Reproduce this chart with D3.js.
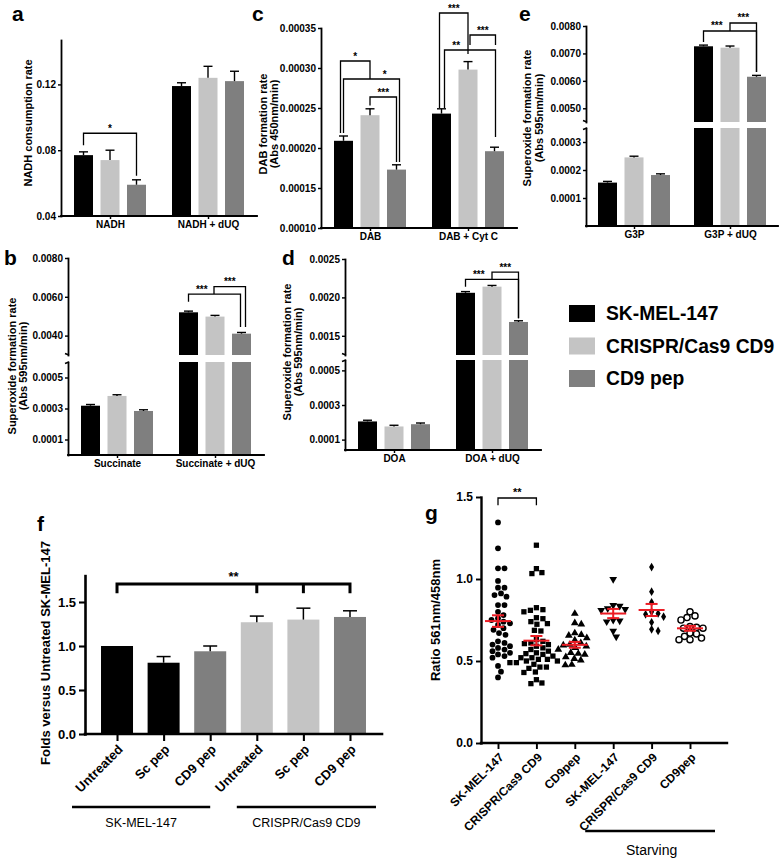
<!DOCTYPE html>
<html><head><meta charset="utf-8">
<script src="https://cdn.jsdelivr.net/npm/d3@7"></script>
<style>
body{margin:0;background:#fff;}
svg{display:block;}
</style></head><body>
<svg id="chart" width="780" height="860"></svg>
<script>
const FONT = "'Liberation Sans', Arial, sans-serif";
const seriesNames = ["SK-MEL-147", "CRISPR/Cas9 CD9", "CD9 pep"];
const seriesColors = ["#000000", "#c4c4c4", "#7f7f7f"];

// ---- panel a
const aGroups = ["NADH", "NADH + dUQ"];
const aValues = [[0.077, 0.074, 0.059], [0.119, 0.124, 0.122]];
const aErrors = [[0.002, 0.006, 0.003], [0.002, 0.007, 0.006]];
const aTicks = [0.04, 0.08, 0.12];
const aBrackets = [{gL:0, sL:0, gR:0, sR:2, v:0.0903, vL:0.083, vR:0.0645, label:"*"}];

// ---- panel b
const bGroups = ["Succinate", "Succinate + dUQ"];
const bValues = [[0.000318, 0.000381, 0.000284], [0.00520, 0.00498, 0.00410]];
const bErrors = [[0.000003, 0.000004, 0.000004], [0.00003, 0.00003, 0.00003]];
const bTicksLow = [0.0001, 0.0003, 0.0005];
const bTicksHigh = [0.004, 0.006, 0.008];
const bBrackets = [
  {gL:1, sL:0, gR:1, sR:2, v:0.00614, vL:0.00575, vR:0.00444, label:"***", split:1, side:"left"},
  {gL:1, sL:1, gR:1, sR:2, v:0.00652, vL:0.00614, vR:0.00444, label:"***"}
];

// ---- panel c
const cGroups = ["DAB", "DAB + Cyt C"];
const cValues = [[0.000209, 0.000241, 0.000173], [0.000243, 0.000298, 0.000196]];
const cErrors = [[0.000006, 0.000008, 0.000006], [0.000006, 0.00001, 0.000005]];
const cTicks = [0.0001, 0.00015, 0.0002, 0.00025, 0.0003, 0.00035];
const cBrackets = [
  {gL:0, sL:0, gR:0, sR:1, v:0.00030875, vL:0.00021875, vR:0.00028625, label:"*"},
  {gL:0, sL:0, gR:0, sR:2, v:0.00028625, vL:0.00021875, vR:0.0001825, label:"*", split:1, side:"right"},
  {gL:0, sL:1, gR:0, sR:2, v:0.00026375, vL:0.000253, vR:0.0001825, label:"***"},
  {gL:1, sL:0, gR:1, sR:1, v:0.00036875, vL:0.00025, vR:0.0003175, label:"***"},
  {gL:1, sL:1, gR:1, sR:2, v:0.00034125, vL:0.00032875, vR:0.00032875, label:"***"},
  {gL:1, sL:0, gR:1, sR:2, v:0.0003225, vL:0.00025, vR:0.00021375, label:"**", split:1, side:"left"}
];

// ---- panel d
const dGroups = ["DOA", "DOA + dUQ"];
const dValues = [[0.000205, 0.000176, 0.000189], [0.00206, 0.00214, 0.00168]];
const dErrors = [[0.000003, 0.000004, 0.000004], [0.000005, 0.000008, 0.000005]];
const dTicksLow = [0.0001, 0.0003, 0.0005];
const dTicksHigh = [0.0015, 0.0020, 0.0025];
const dBrackets = [
  {gL:1, sL:0, gR:1, sR:2, v:0.002236, vL:0.00214, vR:0.00173, label:"***", split:1, side:"left"},
  {gL:1, sL:1, gR:1, sR:2, v:0.00233, vL:0.002236, vR:0.00173, label:"***"}
];

// ---- panel e
const eGroups = ["G3P", "G3P + dUQ"];
const eValues = [[0.000155, 0.000245, 0.000182], [0.00726, 0.00721, 0.00615]];
const eErrors = [[0.000002, 0.000004, 0.000004], [0.00004, 0.00006, 0.00005]];
const eTicksLow = [0.0001, 0.0002, 0.0003];
const eTicksHigh = [0.005, 0.006, 0.007, 0.008];
const eBrackets = [
  {gL:1, sL:0, gR:1, sR:2, v:0.007818, vL:0.007417, vR:0.006323, label:"***", split:1, side:"left"},
  {gL:1, sL:1, gR:1, sR:2, v:0.00811, vL:0.007818, vR:0.006323, label:"***"}
];

// ---- panel f
const fLabels = ["Untreated", "Sc pep", "CD9 pep", "Untreated", "Sc pep", "CD9 pep"];
const fValues = [1.00, 0.81, 0.94, 1.27, 1.30, 1.33];
const fErrors = [0, 0.07, 0.06, 0.07, 0.13, 0.07];
const fColorIdx = [0, 0, 2, 1, 1, 2];
const fGroupLabels = ["SK-MEL-147", "CRISPR/Cas9 CD9"];
const fTicks = [0, 0.5, 1.0, 1.5];
const fSig = {from:0, to:[3, 4, 5], v:1.705, vLeg:1.60, label:"**"};

// ---- panel g
const gCats = ["SK-MEL-147", "CRISPR/Cas9 CD9", "CD9pep", "SK-MEL-147", "CRISPR/Cas9 CD9", "CD9pep"];
const gSk = [1.345,1.187,1.065,1.065,0.988,0.947,0.947,0.912,0.902,0.892,0.841,0.841,0.80,0.78,0.76,0.75,0.74,0.73,0.72,0.70,0.69,0.67,0.66,0.62,0.61,0.60,0.59,0.58,0.57,0.56,0.55,0.54,0.53,0.52,0.47,0.435,0.40];
const gCr = [1.206,1.063,1.039,1.033,0.825,0.813,0.809,0.80,0.764,0.758,0.74,0.728,0.724,0.52,0.687,0.683,0.51,0.50,0.49,0.48,0.63,0.62,0.61,0.606,0.60,0.59,0.58,0.57,0.56,0.55,0.545,0.54,0.53,0.52,0.51,0.50,0.49,0.463,0.463,0.455,0.433,0.43,0.386,0.366,0.362];
const gPep = [0.789,0.732,0.724,0.67,0.66,0.655,0.64,0.626,0.61,0.60,0.596,0.59,0.58,0.57,0.55,0.545,0.54,0.525,0.514,0.505,0.478,0.475];
const gSkS = [0.998,0.84,0.835,0.82,0.815,0.81,0.75,0.745,0.74,0.683,0.648];
const gCrS = [1.073,0.923,0.858,0.80,0.79,0.785,0.77,0.736,0.693,0.683];
const gPepS = [0.80,0.775,0.765,0.75,0.71,0.705,0.70,0.70,0.67,0.665,0.65,0.64,0.63,0.63];
const gSeries = [gSk, gCr, gPep, gSkS, gCrS, gPepS];
const gTicks = [0, 0.5, 1.0, 1.5];
const gSig = {from:0, to:1, v:1.494, vLeg:1.45, label:"**"};

const svg = d3.select("#chart");

function styleAxis(sel, size, sw, weight) {
  sel.attr("font-family", FONT).attr("font-size", size).attr("font-weight", weight || "bold");
  sel.selectAll("path.domain").attr("stroke", "#000").attr("stroke-width", sw).attr("stroke-linecap", "square");
  sel.selectAll(".tick line").attr("stroke", "#000").attr("stroke-width", sw * 0.8);
  sel.selectAll(".tick text").attr("fill", "#000");
}

function rotLabel(cx, cy, text, size) {
  svg.append("text").attr("transform", `translate(${cx},${cy}) rotate(-90)`)
    .attr("text-anchor", "middle").attr("dominant-baseline", "central")
    .attr("font-family", FONT).attr("font-weight", "bold").attr("font-size", size).text(text);
}
function letter(x, y, t) {
  svg.append("text").attr("x", x).attr("y", y).attr("font-family", FONT)
    .attr("font-weight", "bold").attr("font-size", 21).text(t);
}

function barPanel(cfg) {
  const g = svg.append("g");
  const x = d3.scalePoint().domain(d3.range(cfg.groups.length)).range([cfg.left, cfg.left + cfg.len]).padding(0.5);
  const xs = d3.scaleBand().domain(d3.range(3)).range([-36, 36]).paddingInner(0.283);
  const segs = cfg.segs.map(s => Object.assign({}, s, {y: d3.scaleLinear().domain(s.domain).range(s.range)}));
  const yOf = v => (segs.find(s => v <= s.domain[1]) || segs[segs.length - 1]).y(v);
  const bottom = segs[0].range[0];
  const cxOf = (gi, si) => x(gi) + xs(si) + xs.bandwidth() / 2;

  cfg.values.forEach((row, gi) => row.forEach((v, si) => {
    const bx = x(gi) + xs(si);
    segs.forEach(s => {
      if (v <= s.domain[0]) return;
      const top = s.y(Math.min(v, s.domain[1]));
      g.append("rect").attr("x", bx).attr("width", xs.bandwidth())
        .attr("y", top).attr("height", s.range[0] - top).attr("fill", seriesColors[si]);
    });
    const e = cfg.errors[gi][si], cx = cxOf(gi, si);
    const y0 = yOf(v), y1 = Math.min(yOf(v + e), y0 - 1.2);
    g.append("line").attr("x1", cx).attr("x2", cx).attr("y1", y0).attr("y2", y1).attr("stroke", "#000").attr("stroke-width", 1.4);
    g.append("line").attr("x1", cx - 4.5).attr("x2", cx + 4.5).attr("y1", y1).attr("y2", y1).attr("stroke", "#000").attr("stroke-width", 1.4);
  }));

  segs.forEach((s, i) => {
    const ax = g.append("g").attr("transform", `translate(${cfg.left},0)`)
      .call(d3.axisLeft(s.y).tickValues(s.ticks).tickFormat(d3.format(cfg.fmt)).tickSize(3).tickPadding(2).tickSizeOuter(0));
    styleAxis(ax, 10, 1.8);
    if (segs.length > 1) {
      const yb = i === 0 ? s.range[1] : s.range[0];
      g.append("line").attr("x1", cfg.left - 3).attr("x2", cfg.left + 1).attr("y1", yb + (i === 0 ? 1.5 : -1.5)).attr("y2", yb)
        .attr("stroke", "#000").attr("stroke-width", 1.6);
    }
  });

  const xa = g.append("g").attr("transform", `translate(0,${bottom})`)
    .call(d3.axisBottom(x).tickSize(3).tickPadding(2).tickSizeOuter(0).tickFormat(i => cfg.groups[i]));
  styleAxis(xa, 10, 1.8);
  xa.select("path.domain").attr("d", `M${cfg.left},0H${cfg.left + cfg.len}`);

  const nud = cfg.nudges || [];
  cfg.brackets.forEach((b, k) => {
    const n = nud[k] || [0, 0];
    const xL = cxOf(b.gL, b.sL) + n[0], xR = cxOf(b.gR, b.sR) + n[1];
    const yh = yOf(b.v);
    g.append("path").attr("d", `M${xL},${yOf(b.vL)}V${yh}H${xR}V${yOf(b.vR)}`)
      .attr("fill", "none").attr("stroke", "#000").attr("stroke-width", 1.3);
    let lx = (xL + xR) / 2;
    if (b.split !== undefined) {
      const xm = cxOf(b.gL, b.split);
      lx = b.side === "left" ? (xL + xm) / 2 : (xm + xR) / 2;
    }
    g.append("text").attr("x", lx).attr("y", yh - 1.5).attr("text-anchor", "middle")
      .attr("font-family", FONT).attr("font-weight", "bold").attr("font-size", 10).text(b.label);
  });
}

barPanel({left:61, len:196, groups:aGroups, values:aValues, errors:aErrors, fmt:".2f",
  segs:[{domain:[0.04, 0.147], range:[216, 40], ticks:aTicks}], brackets:aBrackets});
barPanel({left:68, len:196, groups:bGroups, values:bValues, errors:bErrors, fmt:".4f",
  segs:[{domain:[0, 0.0006], range:[455, 362], ticks:bTicksLow}, {domain:[0.003, 0.008], range:[355, 258], ticks:bTicksHigh}],
  brackets:bBrackets, nudges:[[0, -1], [-1, 4]]});
barPanel({left:321, len:196, groups:cGroups, values:cValues, errors:cErrors, fmt:".5f",
  segs:[{domain:[0.0001, 0.00035], range:[228, 28], ticks:cTicks}], brackets:cBrackets,
  nudges:[[-3, 0], [0, 3], [0, 0], [-2, 0], [2, 1], [3, 1]]});
barPanel({left:345, len:196, groups:dGroups, values:dValues, errors:dErrors, fmt:".4f",
  segs:[{domain:[0.00004, 0.00056], range:[450, 360], ticks:dTicksLow}, {domain:[0.00125, 0.0025], range:[355, 259], ticks:dTicksHigh}],
  brackets:dBrackets});
barPanel({left:586, len:192, groups:eGroups, values:eValues, errors:eErrors, fmt:".4f",
  segs:[{domain:[0, 0.00035], range:[226, 128], ticks:eTicksLow}, {domain:[0.0045, 0.008], range:[122, 26], ticks:eTicksHigh}],
  brackets:eBrackets});

// y labels + letters, top panels
rotLabel(28, 123, "NADH consumption rate", 11);
rotLabel(12, 366, "Superoxide formation rate", 11); rotLabel(23, 366, "(Abs 595nm/min)", 11);
rotLabel(263, 124, "DAB formation rate", 11); rotLabel(274, 124, "(Abs 450nm/min)", 11);
rotLabel(287, 352, "Superoxide formation rate", 11); rotLabel(298, 352, "(Abs 595nm/min)", 11);
rotLabel(527, 118, "Superoxide formation rate", 11); rotLabel(539, 118, "(Abs 595nm/min)", 11);
letter(12, 21, "a"); letter(4, 265, "b"); letter(252, 21, "c"); letter(282, 265, "d"); letter(519, 21, "e");
letter(37, 531, "f"); letter(425, 520, "g");

// legend
const leg = svg.append("g");
seriesNames.forEach((n, i) => {
  const yy = 305 + i * 32.5;
  leg.append("rect").attr("x", 569).attr("y", yy).attr("width", 26).attr("height", 17).attr("fill", seriesColors[i]);
  leg.append("text").attr("x", 606).attr("y", yy + 8.5).attr("dominant-baseline", "central")
    .attr("font-family", FONT).attr("font-weight", "bold").attr("font-size", 19.3).text(n);
});

// ---- panel f
{
  const g = svg.append("g");
  const x = d3.scalePoint().domain(d3.range(fValues.length)).range([85, 382]).padding(0.687);
  const y = d3.scaleLinear().domain([0, 1.8]).range([734, 575.6]);
  const bw = 32;
  fValues.forEach((v, i) => {
    g.append("rect").attr("x", x(i) - bw / 2).attr("width", bw).attr("y", y(v)).attr("height", y(0) - y(v))
      .attr("fill", seriesColors[fColorIdx[i]]);
    if (fErrors[i] > 0) {
      const y1 = y(v + fErrors[i]);
      g.append("line").attr("x1", x(i)).attr("x2", x(i)).attr("y1", y(v)).attr("y2", y1).attr("stroke", "#000").attr("stroke-width", 1.5);
      g.append("line").attr("x1", x(i) - 7).attr("x2", x(i) + 7).attr("y1", y1).attr("y2", y1).attr("stroke", "#000").attr("stroke-width", 1.5);
    }
  });
  const ay = g.append("g").attr("transform", "translate(85,0)")
    .call(d3.axisLeft(y).tickValues(fTicks).tickFormat(d3.format(".1f")).tickSize(6).tickPadding(3).tickSizeOuter(0));
  styleAxis(ay, 13, 2.6);
  const ax = g.append("g").attr("transform", `translate(0,${y(0)})`)
    .call(d3.axisBottom(x).tickSize(7).tickSizeOuter(0).tickFormat(i => fLabels[i]));
  styleAxis(ax, 13, 2.6);
  ax.select("path.domain").attr("d", "M85,0H382");
  ax.selectAll(".tick text").attr("x", null).attr("y", null).attr("dy", "0.35em")
    .attr("text-anchor", "end").attr("transform", "translate(3,13) rotate(-45)");
  // significance
  const yh = y(fSig.v), yl = y(fSig.vLeg);
  g.append("path").attr("d", `M${x(fSig.from)},${yl}V${yh}H${x(fSig.to[fSig.to.length - 1])}V${yl}`)
    .attr("fill", "none").attr("stroke", "#000").attr("stroke-width", 3);
  fSig.to.slice(0, -1).forEach(i => g.append("line").attr("x1", x(i)).attr("x2", x(i)).attr("y1", yh).attr("y2", yl)
    .attr("stroke", "#000").attr("stroke-width", 3));
  g.append("text").attr("x", (x(fSig.from) + x(fSig.to[fSig.to.length - 1])) / 2).attr("y", yh - 3)
    .attr("text-anchor", "middle").attr("font-family", FONT).attr("font-weight", "bold").attr("font-size", 13).text(fSig.label);
  // group underlines
  const spans = [[x(0) - 45, x(2)], [x(3) - 20, x(5) + 26]];
  spans.forEach((s, i) => {
    g.append("line").attr("x1", s[0]).attr("x2", s[1]).attr("y1", 807).attr("y2", 807).attr("stroke", "#000").attr("stroke-width", 2.5);
    g.append("text").attr("x", (s[0] + s[1]) / 2).attr("y", 827).attr("text-anchor", "middle")
      .attr("font-family", FONT).attr("font-size", 12.5).text(fGroupLabels[i]);
  });
  rotLabel(45, 653, "Folds versus Untreated SK-MEL-147", 13);
}

// ---- panel g
{
  const g = svg.append("g");
  const x = d3.scalePoint().domain(d3.range(gCats.length)).range([498, 690]);
  const y = d3.scaleLinear().domain([0, 1.5]).range([743, 497]);
  const sym = [
    {t:d3.symbolCircle, s:26, fill:"#000", rot:0},
    {t:d3.symbolSquare, s:28, fill:"#000", rot:0},
    {t:d3.symbolTriangle, s:26, fill:"#000", rot:0},
    {t:d3.symbolTriangle, s:26, fill:"#000", rot:180},
    {t:d3.symbolDiamond, s:22, fill:"#000", rot:0},
    {t:d3.symbolCircle, s:30, fill:"#fff", rot:0, stroke:"#000"}
  ];
  function swarm(vals, cx, diam) {
    const pts = vals.map(v => ({v, y: y(v)})).sort((a, b) => a.y - b.y);
    const placed = [];
    pts.forEach(p => {
      for (let k = 0; k < 200; k++) {
        const off = (k % 2 ? 1 : -1) * Math.ceil(k / 2) * 0.5;
        const px = cx + off;
        if (placed.every(q => (q.x - px) ** 2 + (q.y - p.y) ** 2 >= diam * diam)) { p.x = px; break; }
      }
      placed.push(p);
    });
    return placed;
  }
  gSeries.forEach((vals, i) => {
    const pts = swarm(vals, x(i), 6.4);
    const s = sym[i];
    const path = d3.symbol().type(s.t).size(s.s)();
    pts.forEach(p => {
      g.append("path").attr("d", path).attr("transform", `translate(${p.x},${p.y}) rotate(${s.rot})`)
        .attr("fill", s.fill).attr("stroke", s.stroke || "none").attr("stroke-width", 1.4);
    });
  });
  gSeries.forEach((vals, i) => {
    const m = d3.mean(vals), se = d3.deviation(vals) / Math.sqrt(vals.length);
    const red = "#ec1c24";
    const line = (x1, x2, y1, y2) => g.append("line").attr("x1", x1).attr("x2", x2).attr("y1", y1).attr("y2", y2)
      .attr("stroke", red).attr("stroke-width", 2);
    line(x(i) - 13, x(i) + 13, y(m), y(m));
    line(x(i), x(i), y(m - se), y(m + se));
    line(x(i) - 6, x(i) + 6, y(m - se), y(m - se));
    line(x(i) - 6, x(i) + 6, y(m + se), y(m + se));
  });
  const ay = g.append("g").attr("transform", "translate(481,0)")
    .call(d3.axisLeft(y).tickValues(gTicks).tickFormat(d3.format(".1f")).tickSize(5).tickPadding(3).tickSizeOuter(0));
  styleAxis(ay, 12, 2.4);
  const ax = g.append("g").attr("transform", `translate(0,${y(0)})`)
    .call(d3.axisBottom(x).tickSize(6).tickSizeOuter(0).tickFormat(i => gCats[i]));
  styleAxis(ax, 12, 2.4);
  ax.select("path.domain").attr("d", "M481,0H727");
  ax.selectAll(".tick text").attr("x", null).attr("y", null).attr("dy", "0.35em")
    .attr("text-anchor", "end").attr("transform", "translate(3,12) rotate(-45)");
  const yh = y(gSig.v), yl = y(gSig.vLeg);
  g.append("path").attr("d", `M${x(gSig.from)},${yl}V${yh}H${x(gSig.to)}V${yl}`)
    .attr("fill", "none").attr("stroke", "#000").attr("stroke-width", 1.3);
  g.append("text").attr("x", (x(gSig.from) + x(gSig.to)) / 2).attr("y", yh - 2).attr("text-anchor", "middle")
    .attr("font-family", FONT).attr("font-weight", "bold").attr("font-size", 11).text(gSig.label);
  g.append("line").attr("x1", x(3) - 28).attr("x2", x(5) + 25).attr("y1", 831).attr("y2", 831).attr("stroke", "#000").attr("stroke-width", 2.5);
  g.append("text").attr("x", x(4)).attr("y", 855).attr("text-anchor", "middle")
    .attr("font-family", FONT).attr("font-size", 14).text("Starving");
  rotLabel(435, 620, "Ratio 561nm/458nm", 13);
}
</script>
</body></html>
